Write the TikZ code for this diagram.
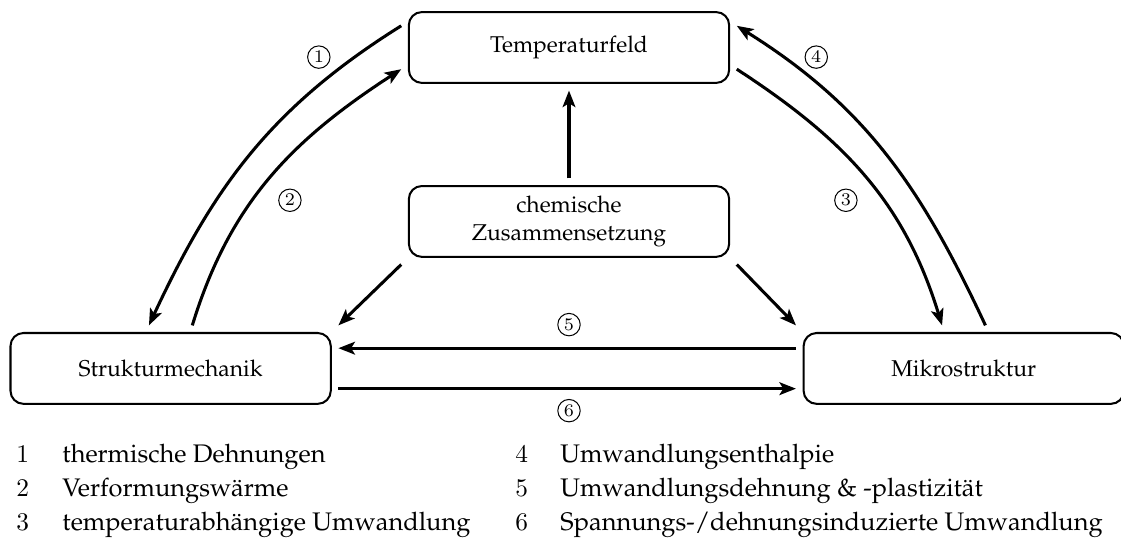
\documentclass[tikz,border=0pt]{standalone}
\usepackage[T1]{fontenc}
\usepackage{palatino}
\usetikzlibrary{arrows.meta}
\tikzset{
    box/.style={draw, thick, rounded corners=0.18cm, minimum width=4.43cm,
        minimum height=0.98cm, align=center, font=\small, outer sep=3pt},
    pfeil/.style={very thick, -{Stealth[length=6.5pt,width=5pt,inset=1.5pt]}},
    kreis/.style={circle, draw, thin, inner sep=0pt, minimum size=0.31cm, font=\scriptsize}
}
\begin{document}
\begin{tikzpicture}
        \useasboundingbox (0,0) rectangle (15.505,7.51);
        \node[box] (temp) at (7.87,6.853) {Temperaturfeld};
        \node[box] (chem) at (7.87,4.447) {chemische\\Zusammensetzung};
        \node[box] (struct) at (2.36,2.414) {Strukturmechanik};
        \node[box] (mikro) at (13.33,2.414) {Mikrostruktur};
        % Kopplungen ueber die Boegen
        \draw[pfeil] ([yshift=0.3cm]temp.west) to[out=212,in=65] ([xshift=-0.3cm]struct.north);
        \draw[pfeil] ([xshift=0.3cm]struct.north) to[out=73,in=213] ([yshift=-0.3cm]temp.west);
        \draw[pfeil] ([yshift=-0.3cm]temp.east) to[out=-33,in=107] ([xshift=-0.3cm]mikro.north);
        \draw[pfeil] ([xshift=0.3cm]mikro.north) to[out=115,in=-32] ([yshift=0.3cm]temp.east);
        % chemische Zusammensetzung
        \draw[pfeil] (chem.north) -- (temp.south);
        \draw[pfeil] (chem.south west) -- (struct.north east);
        \draw[pfeil] (chem.south east) -- (mikro.north west);
        % waagrechte Kopplungen
        \draw[pfeil] ([yshift=0.28cm]mikro.west) -- ([yshift=0.28cm]struct.east);
        \draw[pfeil] ([yshift=-0.28cm]struct.east) -- ([yshift=-0.28cm]mikro.west);
        \node[kreis] (c1) at (4.41,6.72) {$1$};
        \node[kreis] (c2) at (4.01,4.74) {$2$};
        \node[kreis] (c3) at (11.70,4.74) {$3$};
        \node[kreis] (c4) at (11.29,6.72) {$4$};
        \node[kreis] (c5) at (7.87,3.02) {$5$};
        \node[kreis] (c6) at (7.87,1.83) {$6$};
        % Legende
        \foreach \nr/\txt [count=\k from 0] in {1/thermische Dehnungen,
            2/Verformungsw\"arme, 3/temperaturabh\"angige Umwandlung}
            {\node[anchor=base west, inner sep=0pt] (num\nr) at (0.22,1.107-0.47*\k) {$\nr$};
            \node[anchor=base west, inner sep=0pt] (leg\nr) at (0.857,1.107-0.47*\k) {\txt};}
        \foreach \nr/\txt [count=\k from 0] in {4/Umwandlungsenthalpie,
            5/Umwandlungsdehnung \& -plastizit\"at, 6/{Spannungs-/dehnungsinduzierte Umwandlung}}
            {\node[anchor=base west, inner sep=0pt] (num\nr) at (7.12,1.107-0.47*\k) {$\nr$};
            \node[anchor=base west, inner sep=0pt] (leg\nr) at (7.745,1.107-0.47*\k) {\txt};}
    \end{tikzpicture}
\end{document}
